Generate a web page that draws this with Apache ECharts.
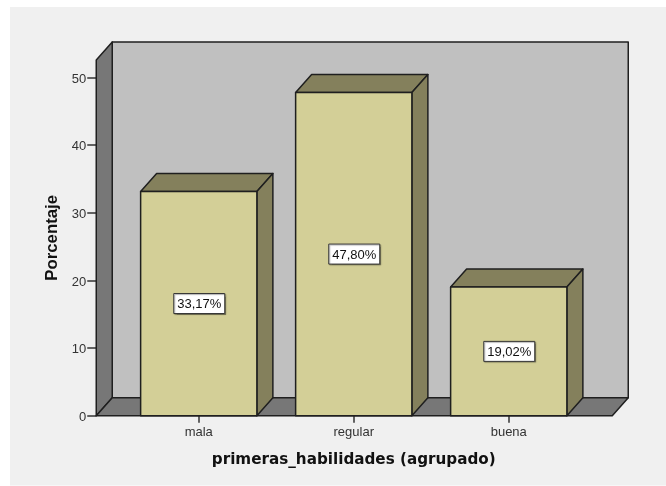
<!DOCTYPE html>
<html>
<head>
<meta charset="utf-8">
<title>primeras_habilidades</title>
<style>
html, body { margin: 0; padding: 0; background: #fff; }
#chart { width: 666px; height: 486px; }
</style>
<script src="https://cdn.jsdelivr.net/npm/echarts@6/dist/echarts.min.js"></script>
</head>
<body>
<div id="chart"></div>
<script>
const categories = ['mala', 'regular', 'buena']
const porcentajes = [33.17, 47.80, 19.02]
const yTicks = [0, 10, 20, 30, 40, 50]
const yMax = 52.6

// profundidad del efecto 3D
const depthX = 16
const depthY = 18
const line = '#1f1f1f'

function poly(points, fill) {
  return {
    type: 'polygon',
    shape: { points: points },
    style: { fill: fill, stroke: line, lineWidth: 1.5, lineJoin: 'round' }
  }
}

function renderWalls(params) {
  const c = params.coordSys
  const x0 = c.x - 25
  const x1 = c.x + c.width + 26
  const top = c.y
  const bot = c.y + c.height
  return {
    type: 'group',
    children: [
      poly([[x0 + depthX, top - depthY], [x1 + depthX, top - depthY], [x1 + depthX, bot - depthY], [x0 + depthX, bot - depthY]], '#c0c0c0'),
      poly([[x0, bot], [x0 + depthX, bot - depthY], [x0 + depthX, top - depthY], [x0, top]], '#777777'),
      poly([[x0, bot], [x1, bot], [x1 + depthX, bot - depthY], [x0 + depthX, bot - depthY]], '#777777')
    ]
  }
}

function renderBar(params, api) {
  const val = api.value(1)
  const p = api.coord([api.value(0), val])
  const base = api.coord([api.value(0), 0])
  const w = api.size([1, 0])[0] * 0.75
  const l = p[0] - w / 2
  const r = p[0] + w / 2
  const t = p[1]
  const b = base[1]
  const midY = (t + b) / 2
  return {
    type: 'group',
    children: [
      poly([[l, t], [r, t], [r + depthX, t - depthY], [l + depthX, t - depthY]], '#84805c'),
      poly([[r, t], [r, b], [r + depthX, b - depthY], [r + depthX, t - depthY]], '#84805c'),
      poly([[l, t], [r, t], [r, b], [l, b]], '#d3cf97'),
      {
        type: 'rect',
        shape: { x: p[0] - 25, y: midY - 10, width: 51, height: 20 },
        style: { fill: '#fff', stroke: '#333', lineWidth: 1, shadowColor: 'rgba(0,0,0,0.3)', shadowOffsetX: 1, shadowOffsetY: 1, shadowBlur: 1 }
      },
      {
        type: 'text',
        style: {
          x: p[0] + 0.5,
          y: midY + 1,
          text: val.toFixed(2).replace('.', ',') + '%',
          align: 'center',
          verticalAlign: 'middle',
          fill: '#111',
          font: '13px "Liberation Sans"'
        }
      }
    ]
  }
}

const chart = echarts.init(document.getElementById('chart'))
chart.setOption({
  animation: false,
  backgroundColor: '#fff',
  textStyle: { fontFamily: 'Liberation Sans' },
  graphic: [{
    type: 'rect',
    z: -10,
    shape: { x: 10, y: 7, width: 656, height: 478.5 },
    style: { fill: '#f0f0f0' }
  }],
  grid: { left: 121.25, top: 60, width: 465, height: 355.7 },
  xAxis: {
    type: 'category',
    data: categories,
    name: 'primeras_habilidades (agrupado)',
    nameLocation: 'middle',
    nameGap: 37,
    nameTextStyle: { fontFamily: 'DejaVu Sans', fontWeight: 'bold', fontSize: 15.2, color: '#111' },
    axisLine: { show: false },
    axisTick: { show: true, alignWithLabel: true, length: 7, lineStyle: { color: '#333', width: 1.5 } },
    axisLabel: { fontSize: 13, fontFamily: 'Liberation Sans', color: '#333', margin: 10 }
  },
  yAxis: {
    type: 'value',
    min: 0,
    max: yMax,
    offset: 25,
    name: 'Porcentaje',
    nameLocation: 'middle',
    nameGap: 35,
    nameTextStyle: { fontFamily: 'Liberation Sans', fontWeight: 'bold', fontSize: 16.8, color: '#111' },
    splitLine: { show: false },
    axisLine: { show: false },
    axisTick: { show: true, length: 9, customValues: yTicks, lineStyle: { color: '#333', width: 1.5 } },
    axisLabel: {
      margin: 10,
      customValues: yTicks,
      formatter: '{t|{value}}',
      rich: { t: { fontSize: 13, fontFamily: 'Liberation Sans', color: '#333', padding: [3, 0, 0, 0] } }
    }
  },
  series: [
    {
      type: 'custom',
      z: 1,
      silent: true,
      renderItem: renderWalls,
      data: [[0, 0]],
      encode: { x: 0, y: 1 }
    },
    {
      type: 'custom',
      z: 3,
      renderItem: renderBar,
      data: categories.map((c, i) => [i, porcentajes[i]]),
      encode: { x: 0, y: 1 }
    }
  ]
})
</script>
</body>
</html>
